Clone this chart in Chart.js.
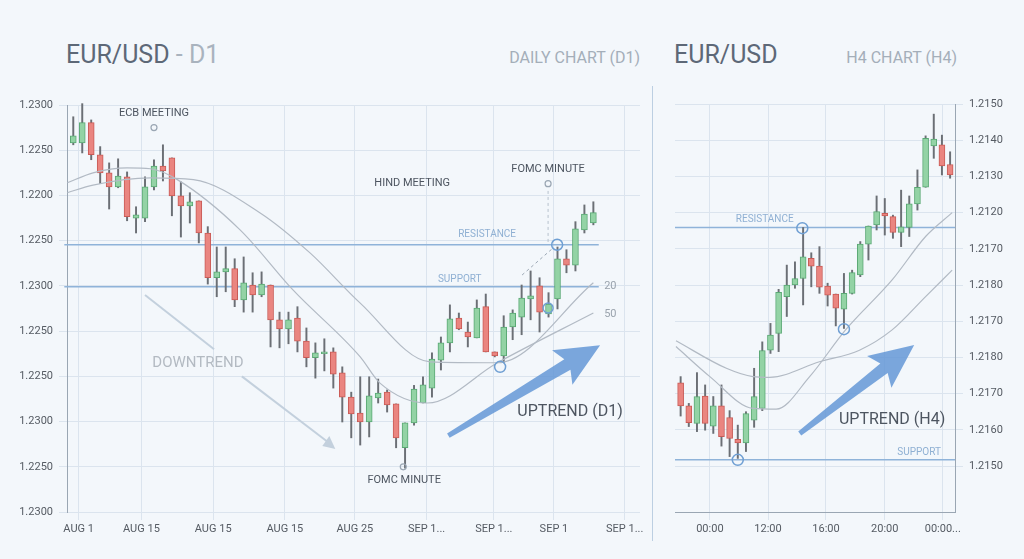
<!DOCTYPE html>
<html><head><meta charset="utf-8">
<script src="https://cdn.jsdelivr.net/npm/chart.js@4.4.0/dist/chart.umd.min.js"></script>
<style>
body{margin:0;background:#f3f7fb;width:1024px;height:559px;overflow:hidden;font-family:Roboto,"Open Sans",sans-serif;position:relative}
.t{position:absolute;white-space:nowrap}
canvas{position:absolute;top:0}
</style></head><body>
<div class="t" style="left:66px;top:40px;font-size:25px;color:#5d6877">EUR/USD <span style="color:#a9b3be">- D1</span></div>
<div class="t" style="right:384px;top:48px;font-size:16px;color:#a4aeb9">DAILY CHART (D1)</div>
<div class="t" style="left:674px;top:40px;font-size:25px;color:#5d6877">EUR/USD</div>
<div class="t" style="right:67px;top:48px;font-size:16px;color:#a4aeb9">H4 CHART (H4)</div>
<div style="position:absolute;left:652px;top:86px;width:1px;height:455px;background:#bccfe2"></div>
<canvas id="c1" style="left:0;width:650px;height:559px" width="650" height="559"></canvas>
<canvas id="c2" style="left:660px;width:364px;height:559px" width="364" height="559"></canvas>
<script>
// ---- D1 data (open, high, low, close) ----
const d1Open  =[8.16,8.16,8.61,7.90,7.50,7.19,7.41,6.50,6.50,7.19,7.65,7.83,6.99,6.77,6.88,6.17,5.18,5.31,5.38,4.69,5.02,4.80,5.02,4.25,4.05,4.29,3.78,3.41,3.50,3.54,3.08,2.54,2.19,1.99,2.52,2.65,2.39,1.42,1.97,2.41,2.74,3.36,3.74,4.29,3.98,3.85,4.54,3.54,3.45,4.09,4.31,4.71,5.00,4.38,4.71,5.60,5.46,6.24,6.39];
const d1High  =[8.74,9.03,8.67,8.08,7.72,7.81,7.52,6.75,7.41,7.79,8.12,7.83,7.30,7.06,6.88,6.31,5.86,5.86,5.60,5.64,5.29,5.31,5.02,4.42,4.42,4.54,4.07,3.74,3.83,3.63,3.21,2.65,2.99,2.99,2.94,2.70,2.39,1.97,2.80,2.99,3.52,3.87,4.58,4.40,4.20,4.69,4.82,3.54,4.34,4.47,5.02,5.33,5.18,4.85,5.86,5.80,6.42,6.79,6.86];
const d1Low   =[8.12,7.94,7.79,7.26,6.70,7.17,6.44,6.17,6.42,7.12,7.32,6.55,6.08,6.39,5.95,5.04,4.76,4.87,4.54,4.42,4.42,4.76,3.65,3.63,3.72,3.54,3.21,2.96,3.12,2.74,1.99,1.64,1.48,1.66,2.41,2.21,1.42,0.97,1.92,2.41,2.54,3.14,3.54,4.03,3.65,3.85,3.54,3.43,3.30,3.81,3.92,4.25,3.98,4.31,4.49,5.29,5.33,6.17,6.35];
const d1Close =[8.32,8.61,7.90,7.50,7.19,7.43,6.53,6.53,7.19,7.65,7.54,6.99,6.77,6.86,6.17,5.18,5.31,5.38,4.69,5.07,4.80,5.04,4.25,4.05,4.25,3.78,3.41,3.52,3.54,3.05,2.54,2.17,1.99,2.57,2.63,2.37,1.64,1.97,2.72,2.81,3.38,3.74,4.27,4.05,3.87,4.51,3.54,3.45,4.09,4.40,4.73,4.78,4.42,4.60,5.60,5.46,6.26,6.59,6.62];
const d1MA20x=[0.33,3.2,9.6,14.4,21.8,27.4,33,40.8,48.3,59];
const d1MA20 =[7.06,7.23,7.39,7.35,6.62,5.73,4.62,3.32,3.30,5.07];
const d1MA50x=[0.33,3.2,7,9.6,12.6,19.6,25.5,33,35.2,40.5,48.3,59];
const d1MA50 =[7.28,7.50,7.61,7.59,7.35,6.24,4.91,3.43,2.85,2.41,3.30,4.40];
const d1YLabels=['1.2300','1.2250','1.2300','1.2250','1.2250','1.2300','1.2250','1.2200','1.2250','1.2300']; // value 0..9
const d1XTicks=[1.6,8.6,16.6,24.6,32.4,40.4,47.9,54.6,62.5];
const d1XLabels=['AUG 1','AUG 15','AUG 15','AUG 15','AUG 25','SEP 1...','SEP 1...','SEP 1','SEP 1...'];
const d1Resistance=5.91, d1Support=4.98;
// ---- H4 data ----
const h4Open  =[2.30,1.66,1.18,1.93,1.10,1.66,1.34,0.74,0.64,1.27,1.59,3.20,3.66,4.68,5.00,5.18,5.74,5.52,4.97,4.75,4.33,4.77,5.28,6.13,6.66,6.98,6.89,6.45,6.59,7.24,7.70,8.84,8.87,8.33];
const h4High  =[2.47,1.73,2.58,2.24,1.92,2.24,1.53,1.13,1.50,2.70,3.43,3.94,4.88,5.55,5.64,6.59,5.89,6.06,5.05,4.75,5.32,5.41,6.20,6.63,7.46,7.39,6.93,7.62,7.46,8.18,9.12,9.72,9.14,8.68];
const h4Low   =[1.38,1.09,0.95,0.99,0.90,0.55,0.26,0.21,0.40,1.07,1.53,3.11,3.16,4.13,4.91,4.45,4.95,4.77,4.42,3.87,3.80,4.75,5.23,5.69,6.52,6.38,6.29,6.06,6.34,7.07,7.70,8.50,8.04,7.95];
const h4Close =[1.66,1.20,1.92,1.18,1.66,0.81,0.76,0.64,1.45,1.92,3.19,3.62,4.80,5.00,5.18,5.78,5.52,4.94,4.72,4.36,4.77,5.34,6.13,6.63,7.03,6.91,6.45,6.61,7.24,7.70,9.05,9.03,8.29,8.04];
const h4MA1x=[0.43,6.6,9.86,11.9,18,22.9,26.9,31,34.25];
const h4MA1 =[3.46,2.70,2.47,2.45,2.88,3.20,3.76,4.68,5.41];
const h4MA2x=[0.43,4.58,9.86,12.7,16.8,21.2,26.9,31,34.25];
const h4MA2 =[3.30,2.47,1.59,1.57,2.47,3.76,5.14,6.34,7.00];
const h4YLabels=['1.2150','1.2160','1.2170','1.2180','1.2170','1.2180','1.2170','1.2120','1.2130','1.2140','1.2150']; // value 0..10
const h4XTicks=[4.58,11.7,18.8,26.0,33.1];
const h4XLabels=['00:00','12:00','16:00','20:00','00:00...'];
const h4Resistance=6.59, h4Support=0.17;

const GB='#93d3a5',GE='#5aa874',RB='#ea8580',RE='#c95b56';
function candleSets(o,h,l,c){
  const idx=o.map((_,i)=>i+1);
  const up=idx.map((x,i)=>c[i]>=o[i]);
  return [
   {type:'bar',data:idx.map((x,i)=>({x,y:[l[i],h[i]]})),backgroundColor:'#6b6f75',barThickness:1.3,grouped:false,order:3},
   {type:'bar',data:idx.map((x,i)=>({x,y:[Math.min(o[i],c[i]),Math.max(o[i],c[i])+ (Math.abs(o[i]-c[i])<0.04?0.04:0)]})),
    backgroundColor:up.map(u=>u?GB:RB),borderColor:up.map(u=>u?GE:RE),borderWidth:1,borderSkipped:false,barThickness:6,grouped:false,order:2}
  ];
}
function lineSet(xs,ys){return {type:'line',data:xs.map((x,i)=>({x,y:ys[i]})),borderColor:'#b2bac4',borderWidth:1.2,pointRadius:0,cubicInterpolationMode:'monotone',fill:false,order:1};}
function hline(v,x0,x1){return {type:'line',data:[{x:x0,y:v},{x:x1,y:v}],borderColor:'#8fb3d9',borderWidth:1.5,pointRadius:0,order:4};}

function annot(fn){return {id:'ann',afterDatasetsDraw(ch){const X=ch.scales.x,Y=ch.scales.y,ctx=ch.ctx;
  const P=(i,v)=>[X.getPixelForValue(i),Y.getPixelForValue(v)];
  const txt=(s,i,v,sz,col,al)=>{const [x,y]=P(i,v);ctx.font=sz+'px Roboto';ctx.fillStyle=col;ctx.textAlign=al||'center';ctx.textBaseline='middle';ctx.fillText(s,x,y);};
  const circ=(i,v,r,col,w)=>{const [x,y]=P(i,v);ctx.beginPath();ctx.arc(x,y,r,0,7);ctx.strokeStyle=col;ctx.lineWidth=w||1.5;ctx.stroke();};
  const seg=(a,b,c,d,col,w,dash)=>{const [x0,y0]=P(a,b),[x1,y1]=P(c,d);ctx.beginPath();ctx.setLineDash(dash||[]);ctx.moveTo(x0,y0);ctx.lineTo(x1,y1);ctx.strokeStyle=col;ctx.lineWidth=w;ctx.stroke();ctx.setLineDash([]);};
  const bigArrow=(a,b,c,d)=>{const [x0,y0]=P(a,b),[x1,y1]=P(c,d);const ang=Math.atan2(y1-y0,x1-x0),L=Math.hypot(x1-x0,y1-y0);
    ctx.save();ctx.translate(x0,y0);ctx.rotate(ang);ctx.fillStyle='rgba(100,152,214,0.85)';ctx.beginPath();
    ctx.moveTo(0,-2);ctx.lineTo(L-38,-6);ctx.lineTo(L-44,-20);ctx.lineTo(L,0);ctx.lineTo(L-44,20);ctx.lineTo(L-38,6);ctx.lineTo(0,3);ctx.closePath();ctx.fill();ctx.restore();};
  ctx.save();fn({P,txt,circ,seg,bigArrow,ctx});ctx.restore();}};}

function axisOpts(min,max,tickVals,labels,pos,ylabels,ymin,ymax){
  return {
   x:{type:'linear',offset:false,min,max,grid:{color:'#dbe4ee',offset:false},border:{display:pos==='right',color:'#9aa6b3'},
      afterBuildTicks:s=>{s.ticks=tickVals.map(v=>({value:v}));},
      ticks:{callback:(v,i)=>labels[i],color:'#555b63',font:{size:11,family:'Roboto'},maxRotation:0,autoSkip:false},
      afterFit:s=>{s.height=30;}},
   y:{type:'linear',position:pos,min:ymin,max:ymax,grid:{color:'#dbe4ee'},border:{display:true,color:'#9aa6b3'},
      afterBuildTicks:s=>{s.ticks=ylabels.map((_,i)=>({value:i}));},
      ticks:{callback:v=>ylabels[v],color:'#555b63',font:{size:11,family:'Roboto'},padding:pos==='left'?6:6},
      afterFit:s=>{s.width=pos==='left'?67:69;}}
  };
}

new Chart(document.getElementById('c1'),{
 data:{datasets:[...candleSets(d1Open,d1High,d1Low,d1Close),lineSet(d1MA20x,d1MA20),lineSet(d1MA50x,d1MA50),hline(d1Resistance,0,59.6),hline(d1Support,0,59.6)]},
 options:{responsive:false,animation:false,clip:false,layout:{padding:{top:105,right:10,bottom:17}},
  plugins:{legend:{display:false},tooltip:{enabled:false}},
  scales:axisOpts(0.3,64.2,d1XTicks,d1XLabels,'left',d1YLabels,0,9)},
 plugins:[annot(a=>{
  a.txt('ECB MEETING',10,8.81,11,'#4d5560');a.circ(10,8.5,3,'#9aa6b3',1.2);
  a.txt('HIND MEETING',38.8,7.28,11,'#4d5560');
  a.txt('FOMC MINUTE',53.95,7.57,11,'#4d5560');a.circ(53.95,7.26,3,'#9aa6b3',1.2);
  a.seg(53.95,7.1,53.95,5.91,'#b7c2ce',1,[3,3]);
  a.seg(51.05,5.24,54.4,5.82,'#9aa6b3',1,[3,3]);
  a.circ(54.96,5.91,5.5,'#6f9fd3');a.circ(53.95,4.51,5,'#6f9fd3');a.circ(48.6,3.21,5.5,'#6f9fd3');a.circ(37.8,1.0,3,'#9aa6b3',1.2);
  a.txt('FOMC MINUTE',37.9,0.71,11,'#4d5560');
  a.txt('RESISTANCE',47.15,6.13,10,'#8fb0d3');a.txt('SUPPORT',44.1,5.15,10,'#8fb0d3');
  a.txt('20',60.2,5.0,11,'#9aa3ad','left');a.txt('50',60.2,4.38,11,'#9aa3ad','left');
  a.txt('DOWNTREND',14.9,3.30,15,'#b3bac2');
  a.seg(9.0,4.8,16.7,3.6,'#c3d0dd',2);a.seg(19.8,3.0,29.9,1.47,'#c3d0dd',2);
  const [hx,hy]=a.P(30.0,1.44);const c=a.ctx;c.fillStyle='#c3d0dd';c.beginPath();c.moveTo(hx+2,hy+2);c.lineTo(hx-11,hy-1);c.lineTo(hx-4,hy-11);c.closePath();c.fill();
  a.bigArrow(42.8,1.70,59.75,3.69);
  a.txt('UPTREND (D1)',56.4,2.21,16,'#4d5560');
 })]
});

new Chart(document.getElementById('c2'),{
 data:{datasets:[...candleSets(h4Open,h4High,h4Low,h4Close),lineSet(h4MA1x,h4MA1),lineSet(h4MA2x,h4MA2),hline(h4Resistance,0.31,34.6),hline(h4Support,0.31,34.6)]},
 options:{responsive:false,animation:false,clip:false,layout:{padding:{top:104,left:15,bottom:17}},
  plugins:{legend:{display:false},tooltip:{enabled:false}},
  scales:axisOpts(0.31,34.6,h4XTicks,h4XLabels,'right',h4YLabels,-1.27,10)},
 plugins:[annot(a=>{
  a.txt('RESISTANCE',11.3,6.80,10,'#8fb0d3');a.txt('SUPPORT',30.2,0.36,10,'#8fb0d3');
  a.circ(15.9,6.57,5.5,'#6f9fd3');a.circ(8.0,0.17,5.5,'#6f9fd3');a.circ(21.0,3.78,5.5,'#6f9fd3');
  a.bigArrow(15.55,0.91,29.6,3.34);
  a.txt('UPTREND (H4)',26.9,1.27,16,'#4d5560');
 })]
});
</script></body></html>
